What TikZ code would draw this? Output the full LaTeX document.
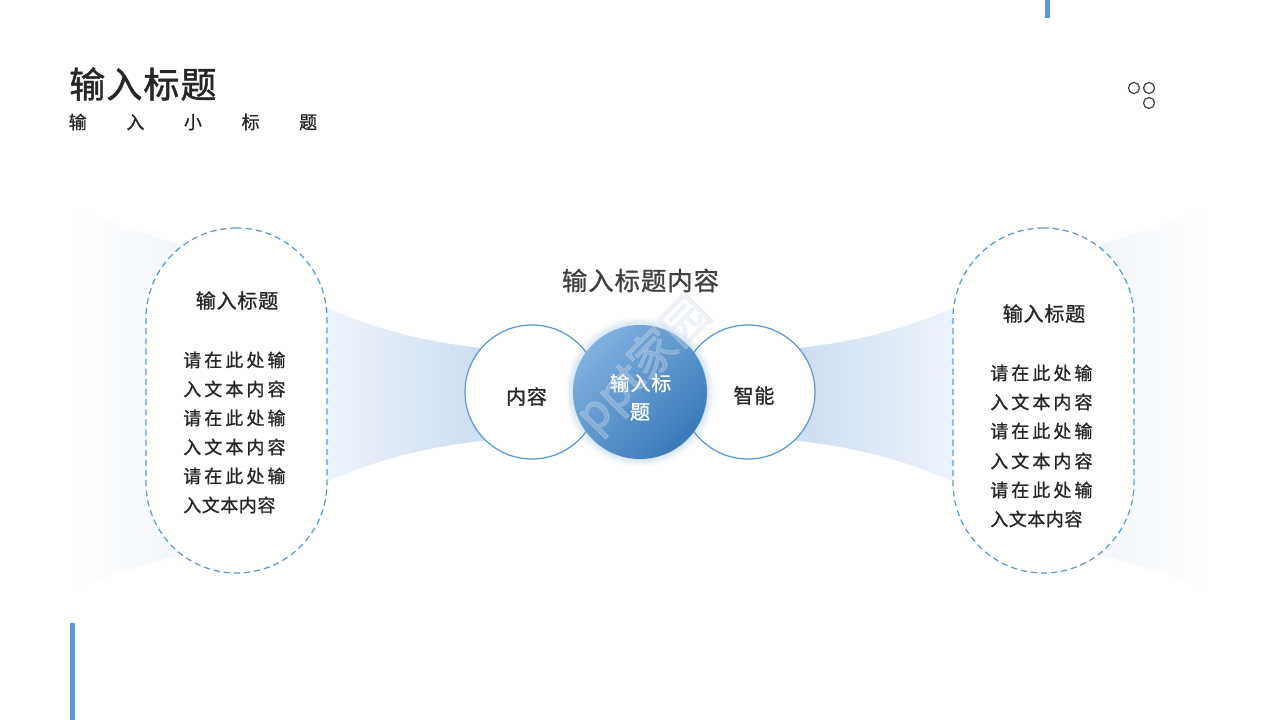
\documentclass[tikz,border=0pt]{standalone}
\usepackage{fontspec}
\usetikzlibrary{positioning}
\setmainfont{Noto Sans CJK SC}
\newfontfamily\titlefont[FakeBold=1.2,LetterSpace=3]{Noto Sans CJK SC}
\newfontfamily\subfont[FakeBold=0.8,LetterSpace=220]{Noto Sans CJK SC}
\newfontfamily\headfont[FakeBold=1,LetterSpace=4]{Noto Sans CJK SC}
\newfontfamily\bodyfont[FakeBold=1,LetterSpace=17]{Noto Sans CJK SC}
\newfontfamily\lastfont[FakeBold=1,LetterSpace=3]{Noto Sans CJK SC}
\newfontfamily\markfont[FakeBold=2.5]{Noto Sans CJK SC}
\definecolor{barblue}{HTML}{5B9BD5}
\definecolor{inkdark}{HTML}{262626}
\definecolor{inkgrey}{HTML}{404040}
\definecolor{fanstrong}{HTML}{CBDDF1}
\definecolor{fanweak}{HTML}{EFF4FB}
\definecolor{fanedge}{HTML}{F1F6FD}
\definecolor{HubTop}{HTML}{7FB0DF}
\definecolor{HubLow}{HTML}{3A7ABA}
\definecolor{HubMark}{HTML}{D5DFEA}
\tikzset{
  pill/.style={draw=barblue,dash pattern=on 4.6pt off 3pt,line width=0.95pt,fill=white,rectangle,rounded corners=67.8pt,minimum width=135.75pt,minimum height=258.75pt,inner sep=0pt},
  sidecircle/.style={draw=barblue,line width=0.95pt,fill=white,circle,minimum size=100.5pt,inner sep=0pt},
  hubcircle/.style={circle,minimum size=100.5pt,inner sep=0pt,shade,top color=HubTop,bottom color=HubLow,shading angle=45},
  headtext/.style={text=inkdark,font=\fontsize{15}{18}\headfont},
  bodytext/.style={text=inkdark,anchor=west,inner sep=0pt,font=\fontsize{13.5}{16}\bodyfont},
  lasttext/.style={text=inkdark,anchor=west,inner sep=0pt,font=\fontsize{13.5}{16}\lastfont},
  dot/.style={circle,draw=inkgrey,line width=0.9pt,minimum size=8.25pt,inner sep=0pt}
}
\begin{document}
\begin{tikzpicture}[x=0.75pt,y=-0.75pt]
  \useasboundingbox (0,0) rectangle (1280,720);
  \fill[white] (0,0) rectangle (1280,720);

  % Corner bars
  \fill[barblue] (1045,0) rectangle (1050,18);
  \fill[barblue] (70,623) rectangle (75,720);

  % Title block
  \node[anchor=west,inner sep=0pt,text=inkdark,font=\fontsize{27}{32}\titlefont] (maintitle) at (69,84) {输入标题};
  \node[anchor=west,inner sep=0pt,text=inkdark,font=\fontsize{13.5}{16}\subfont] (subtitle) at (68.5,122) {输入小标题};

  % Three small rings
  \node[dot] (ringa) at (1134,88) {};
  \node[dot] (ringb) at (1149,88) {};
  \node[dot] (ringc) at (1149,103) {};

  % Outer fans
  \shade[left color=white,right color=fanedge] (70,208) .. controls (110,220) and (150,236) .. (190,248)
    -- (190,552) .. controls (150,562) and (110,576) .. (70,590) -- cycle;
  \shade[left color=fanedge,right color=white] (1090,248) .. controls (1130,236) and (1170,220) .. (1210,208)
    -- (1210,590) .. controls (1170,576) and (1130,562) .. (1090,552) -- cycle;

  % Inner fans
  \shade[left color=fanweak,right color=fanstrong] (320,305) .. controls (375,330) and (430,343) .. (490,349)
    -- (490,440) .. controls (430,446) and (375,459) .. (320,485) -- cycle;
  \shade[left color=fanstrong,right color=fanweak] (790,349) .. controls (850,343) and (905,330) .. (960,305)
    -- (960,485) .. controls (905,459) and (850,446) .. (790,440) -- cycle;

  % Dashed pills
  \node[pill] (leftpill) at (236.5,400.5) {};
  \node[pill] (rightpill) at (1043.5,400.5) {};

  % Left pill text
  \node[headtext] (lefthead) at (237,300.5) {输入标题};
  \foreach \y/\t in {360/请在此处输,389/入文本内容,418/请在此处输,447/入文本内容,476/请在此处输}
    \node[bodytext] (leftbody\y) at (183,\y) {\t};
  \node[lasttext] (leftlast) at (183,505) {入文本内容};

  % Right pill text
  \node[headtext] (righthead) at (1044,313.5) {输入标题};
  \foreach \y/\t in {373/请在此处输,402/入文本内容,431/请在此处输,461/入文本内容,490/请在此处输}
    \node[bodytext] (rightbody\y) at (990,\y) {\t};
  \node[lasttext] (rightlast) at (990,519) {入文本内容};

  % Side circles
  \node[sidecircle] (leftcircle) at (532,392) {};
  \node[sidecircle] (rightcircle) at (748,392) {};
  \node[text=inkdark,font=\fontsize{15}{18}\headfont] (lefttext) at (526.5,396.5) {内容};
  \node[text=inkdark,font=\fontsize{15}{18}\headfont] (righttext) at (754,395.5) {智能};

  % Centre title
  \node[text=inkgrey,font=\fontsize{19}{23}\headfont] (centretitle) at (640.5,280.5) {输入标题内容};

  % Glow and hub
  \foreach \r in {68,69.5,...,74}
    \fill[barblue,opacity=0.05] (640,392) circle (\r*0.75pt);
  \node[hubcircle] (hub) at (640,392) {};
  \node[text=white,font=\fontsize{15}{18}\headfont] (hubtexta) at (640.5,383) {输入标};
  \node[text=white,font=\fontsize{15}{18}\headfont] (hubtextb) at (640,412) {题};

  % Watermark
  \node[rotate=45,text=HubMark,opacity=0.3,font=\fontsize{35}{40}\markfont] (mark) at (644,365) {ppt家园};
\end{tikzpicture}
\end{document}
